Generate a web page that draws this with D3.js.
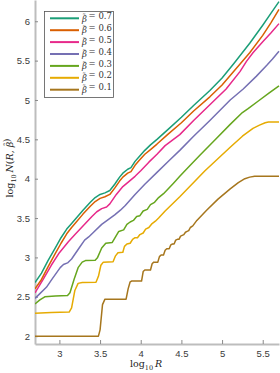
<!DOCTYPE html>
<html>
<head>
<meta charset="utf-8">
<script src="https://cdn.jsdelivr.net/npm/d3@7"></script>
<style>
  body { margin: 0; background: #fff; }
  svg { display: block; }
</style>
</head>
<body>
<svg id="chart" width="280" height="373"></svg>
<script>
// values: [log10 R, log10 N]
const betaLabels = ['0.7', '0.6', '0.5', '0.4', '0.3', '0.2', '0.1'];
const lineColors = ['#1b9e77', '#d95f02', '#e7298a', '#7570b3', '#66a61e', '#e6ab02', '#a6761d'];
const xTicks = [3, 3.5, 4, 4.5, 5, 5.5];
const yTicks = [2, 2.5, 3, 3.5, 4, 4.5, 5, 5.5, 6];

const beta07 = [[2.70,2.68],[2.78,2.80],[2.86,2.96],[2.95,3.12],[3.02,3.25],[3.09,3.36],[3.15,3.43],[3.20,3.49],
  [3.29,3.60],[3.38,3.70],[3.44,3.76],[3.50,3.80],[3.56,3.82],[3.62,3.85],[3.68,3.93],[3.74,4.02],[3.78,4.07],
  [3.84,4.12],[3.88,4.14],[3.93,4.22],[3.98,4.28],[4.05,4.36],[4.12,4.43],[4.20,4.50],[4.34,4.63],[4.50,4.78],
  [4.65,4.93],[4.85,5.12],[5.00,5.28],[5.15,5.47],[5.34,5.72],[5.50,5.95],[5.60,6.10],[5.70,6.25]];
const beta06 = [[2.70,2.60],[2.78,2.72],[2.86,2.88],[2.95,3.05],[3.02,3.18],[3.09,3.30],[3.15,3.38],[3.20,3.44],
  [3.29,3.55],[3.38,3.65],[3.44,3.71],[3.50,3.75],[3.56,3.77],[3.62,3.80],[3.68,3.88],[3.74,3.97],[3.78,4.02],
  [3.84,4.07],[3.88,4.09],[3.93,4.17],[3.98,4.23],[4.05,4.31],[4.12,4.37],[4.20,4.44],[4.34,4.57],[4.50,4.71],
  [4.65,4.86],[4.85,5.04],[5.00,5.19],[5.15,5.37],[5.34,5.60],[5.50,5.82],[5.60,5.98],[5.70,6.15]];
const beta05 = [[2.70,2.55],[2.80,2.72],[2.90,2.90],[3.00,3.06],[3.11,3.20],[3.20,3.30],[3.31,3.42],[3.40,3.52],
  [3.46,3.58],[3.52,3.62],[3.58,3.64],[3.62,3.68],[3.70,3.80],[3.78,3.90],[3.85,3.96],[3.93,4.03],[4.00,4.10],
  [4.10,4.21],[4.20,4.31],[4.30,4.42],[4.48,4.56],[4.65,4.74],[4.85,4.94],[5.05,5.14],[5.22,5.36],[5.30,5.49],
  [5.38,5.60],[5.50,5.74],[5.60,5.85],[5.70,5.97]];
const beta04 = [[2.70,2.48],[2.76,2.54],[2.84,2.62],[2.92,2.74],[3.01,2.87],[3.05,2.91],[3.10,2.93],[3.15,2.98],
  [3.23,3.10],[3.31,3.22],[3.36,3.26],[3.42,3.32],[3.52,3.42],[3.60,3.48],[3.68,3.54],[3.75,3.60],[3.81,3.66],
  [3.93,3.80],[4.05,3.93],[4.20,4.08],[4.35,4.23],[4.48,4.36],[4.65,4.54],[4.85,4.74],[5.10,5.00],[5.26,5.14],
  [5.42,5.30],[5.55,5.44],[5.62,5.52],[5.70,5.62]];
const beta03 = [[2.70,2.41],[2.76,2.46],[2.82,2.50],[2.95,2.51],[3.10,2.515],[3.13,2.55],[3.18,2.72],[3.23,2.87],
  [3.28,2.94],[3.32,2.96],[3.44,2.965],[3.47,3.00],[3.52,3.12],[3.57,3.18],[3.65,3.19],[3.69,3.26],[3.73,3.33],
  [3.79,3.35],[3.83,3.42],[3.87,3.45],[3.91,3.47],[3.95,3.52],[3.99,3.53],[4.03,3.59],[4.08,3.61],[4.12,3.67],
  [4.17,3.70],[4.22,3.76],[4.28,3.81],[4.40,3.94],[4.48,4.03],[4.60,4.16],[4.73,4.30],[4.93,4.51],[5.10,4.69],
  [5.25,4.84],[5.32,4.89],[5.45,4.99],[5.58,5.09],[5.70,5.18]];
const beta02 = [[2.70,2.29],[2.90,2.30],[3.12,2.305],[3.15,2.36],[3.19,2.58],[3.23,2.67],[3.28,2.68],[3.45,2.685],
  [3.48,2.76],[3.51,2.90],[3.54,2.94],[3.66,2.945],[3.69,3.02],[3.72,3.06],[3.78,3.065],[3.80,3.14],[3.83,3.17],
  [3.87,3.18],[3.90,3.23],[3.93,3.25],[3.96,3.25],[3.99,3.29],[4.03,3.31],[4.06,3.36],[4.10,3.38],[4.14,3.43],
  [4.18,3.46],[4.22,3.50],[4.30,3.59],[4.48,3.77],[4.79,4.10],[5.10,4.40],[5.25,4.54],[5.38,4.64],[5.46,4.68],
  [5.53,4.71],[5.57,4.72],[5.70,4.72]];
const beta01 = [[2.70,2.00],[3.48,2.00],[3.50,2.08],[3.53,2.40],[3.56,2.47],[3.82,2.47],[3.845,2.60],[3.87,2.69],
  [3.89,2.70],[4.01,2.70],[4.03,2.82],[4.05,2.84],[4.12,2.84],[4.14,2.92],[4.16,2.94],[4.21,2.94],[4.23,3.01],
  [4.25,3.03],[4.28,3.03],[4.30,3.09],[4.32,3.11],[4.35,3.11],[4.37,3.16],[4.39,3.17],[4.41,3.17],[4.43,3.22],
  [4.45,3.23],[4.47,3.23],[4.49,3.27],[4.51,3.28],[4.53,3.29],[4.55,3.32],[4.57,3.33],[4.59,3.34],[4.61,3.38],
  [4.64,3.40],[4.69,3.47],[4.81,3.60],[4.95,3.74],[5.10,3.87],[5.20,3.95],[5.28,4.00],[5.34,4.02],[5.40,4.03],
  [5.70,4.03]];

const allSeries = [beta07, beta06, beta05, beta04, beta03, beta02, beta01];

const svg = d3.select('#chart');
const serif = "'DejaVu Serif', serif";

// plot area
const xScale = d3.scaleLinear().domain([2.7, 5.7]).range([35, 279]);
const yScale = d3.scaleLinear().domain([1.9, 6.27]).range([344, 0]);

svg.append('defs').append('clipPath').attr('id', 'plot-clip')
  .append('rect').attr('x', 35).attr('y', 0).attr('width', 245).attr('height', 344);

// AXES //
const xAxis = svg.append('g')
  .attr('transform', 'translate(0,344)')
  .call(d3.axisBottom(xScale).tickValues(xTicks).tickFormat(d => d)
    .tickSizeInner(-4).tickSizeOuter(0).tickPadding(6));

const yAxis = svg.append('g')
  .attr('transform', 'translate(35,0)')
  .call(d3.axisLeft(yScale).tickValues(yTicks).tickFormat(d => d)
    .tickSizeInner(-3).tickSizeOuter(0).tickPadding(5));

[xAxis, yAxis].forEach(ax => {
  ax.select('.domain').attr('stroke', '#bdbdbd').attr('stroke-width', 2);
  ax.selectAll('.tick line').attr('stroke', '#8a8a8a');
  ax.selectAll('.tick text')
    .attr('fill', '#3a3a3a')
    .style('font-family', "'Liberation Sans', Arimo, sans-serif")
    .style('font-size', '9.5px');
});

// LINES //
const line = d3.line()
  .x(d => xScale(d[0]))
  .y(d => yScale(d[1]));

svg.append('g')
  .attr('clip-path', 'url(#plot-clip)')
  .selectAll('path')
  .data(allSeries.slice().reverse())
  .enter()
  .append('path')
  .attr('d', d => line(d))
  .attr('fill', 'none')
  .attr('stroke', (d, i) => lineColors[lineColors.length - 1 - i])
  .attr('stroke-width', 1.5)
  .attr('stroke-linejoin', 'round');

// beta with a tilde drawn above it
function addBetaTilde(t) {
  t.append('tspan').style('font-style', 'italic').text('\u03b2');
  t.append('tspan').attr('dx', -4.6).attr('dy', -2.6).style('font-size', '0.85em').text('\u02dc');
  t.append('tspan').attr('dy', 2.6).text('');
}

// AXIS LABELS //
const xLab = svg.append('text')
  .attr('x', 146)
  .attr('y', 367)
  .style('text-anchor', 'middle')
  .style('font-family', serif)
  .style('font-size', '9.5px')
  .attr('fill', '#222');
xLab.append('tspan').text('log');
xLab.append('tspan').attr('dy', 2.5).style('font-size', '6.5px').text('10');
xLab.append('tspan').attr('dy', -2.5).text('\u2009');
xLab.append('tspan').style('font-style', 'italic').text('R');

const yLab = svg.append('text')
  .attr('transform', 'translate(13,168) rotate(-90)')
  .style('text-anchor', 'middle')
  .style('font-family', serif)
  .style('font-size', '9.5px')
  .attr('fill', '#222');
yLab.append('tspan').text('log');
yLab.append('tspan').attr('dy', 2.5).style('font-size', '6.5px').text('10');
yLab.append('tspan').attr('dy', -2.5).text('\u2009');
yLab.append('tspan').style('font-style', 'italic').text('N');
yLab.append('tspan').text('(');
yLab.append('tspan').style('font-style', 'italic').text('R');
yLab.append('tspan').text(', ');
addBetaTilde(yLab);
yLab.append('tspan').text(')');

// LEGEND //
const legend = svg.append('g');
legend.append('rect')
  .attr('x', 44.5).attr('y', 11.5)
  .attr('width', 69).attr('height', 86)
  .attr('fill', '#fff')
  .attr('stroke', '#555')
  .attr('stroke-width', 0.8);

betaLabels.forEach((b, i) => {
  const ly = 18.3 + i * 11.9;
  legend.append('line')
    .attr('x1', 50).attr('x2', 79)
    .attr('y1', ly).attr('y2', ly)
    .attr('stroke', lineColors[i])
    .attr('stroke-width', 2);
  const t = legend.append('text')
    .attr('x', 82)
    .attr('y', ly + 3.2)
    .style('font-family', serif)
    .style('font-size', '8.5px')
    .attr('fill', '#333');
  addBetaTilde(t);
  t.append('tspan').text(' = ' + b);
});
</script>
</body>
</html>
